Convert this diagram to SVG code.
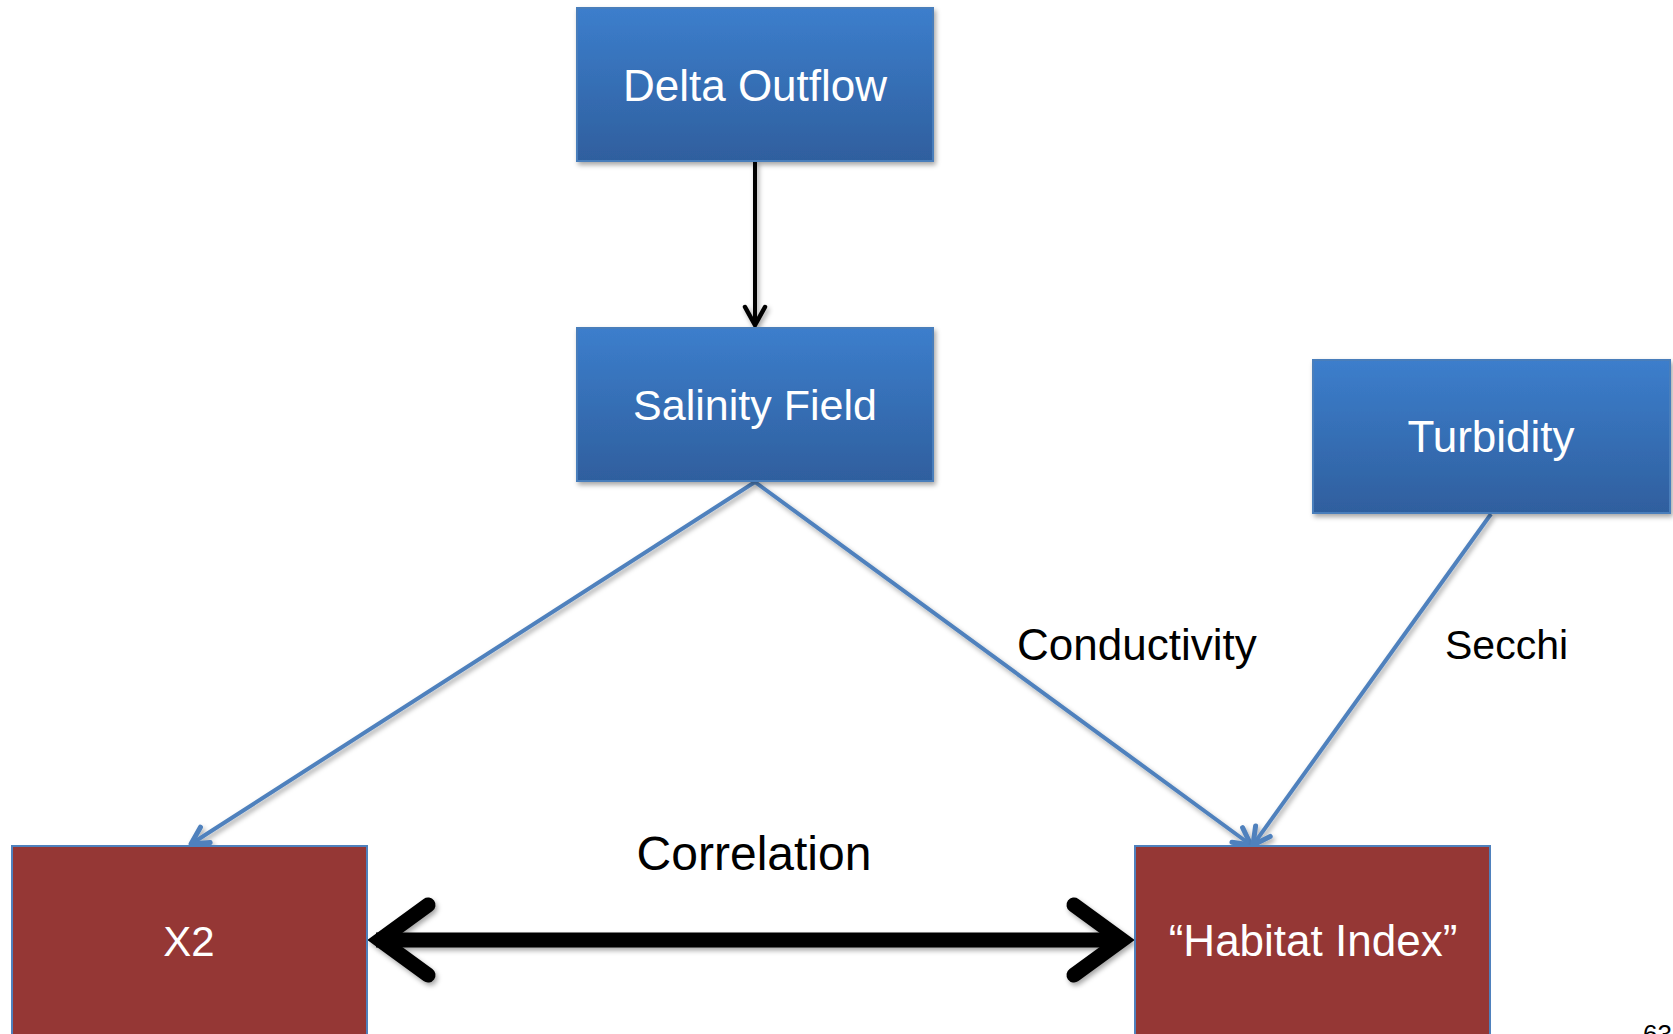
<svg xmlns="http://www.w3.org/2000/svg" width="1673" height="1034" viewBox="0 0 1673 1034">
<style>
.lbl{font-family:"Liberation Sans",Arial,sans-serif;fill:#000}
.ntxt{font-family:"Liberation Sans",Arial,sans-serif;fill:#fff;text-anchor:middle}
.blue{fill:url(#gBlue);stroke:#4a7ebb;stroke-width:2}
.red{fill:#953735;stroke:#4f81bd;stroke-width:2}
.bconn{fill:none;stroke:#4f81bd;stroke-width:4}
</style>
<defs>
<linearGradient id="gBlue" x1="0" y1="0" x2="0" y2="1">
<stop offset="0" stop-color="#3c7ecc"/>
<stop offset="1" stop-color="#2f5f9e"/>
</linearGradient>
<filter id="sh" filterUnits="userSpaceOnUse" x="0" y="0" width="1673" height="1034">
<feDropShadow dx="2" dy="3" stdDeviation="2.5" flood-color="#000" flood-opacity="0.35"/>
</filter>
<marker id="aBlue" markerUnits="userSpaceOnUse" viewBox="-22 -14 26 28" refX="0" refY="0" markerWidth="26" markerHeight="28" orient="auto">
<path d="M-17,-9 L0,0 L-17,9" fill="none" stroke="#4f81bd" stroke-width="5" stroke-linecap="round" stroke-linejoin="round"/>
</marker>
<marker id="aBlack" markerUnits="userSpaceOnUse" viewBox="-22 -14 26 28" refX="0" refY="0" markerWidth="26" markerHeight="28" orient="auto">
<path d="M-18,-10 L0,0 L-18,10" fill="none" stroke="#000" stroke-width="4.5" stroke-linecap="round" stroke-linejoin="miter"/>
</marker>
</defs>
<rect width="1673" height="1034" fill="#fff"/>

<g id="connectors">
<line x1="755" y1="161" x2="755" y2="325" stroke="#000" stroke-width="4" marker-end="url(#aBlack)" filter="url(#sh)"/>
<line class="bconn" x1="755" y1="482" x2="191" y2="844" marker-end="url(#aBlue)" filter="url(#sh)"/>
<line class="bconn" x1="755" y1="482" x2="1251" y2="845" marker-end="url(#aBlue)" filter="url(#sh)"/>
<line class="bconn" x1="1491" y1="514" x2="1253" y2="845" marker-end="url(#aBlue)" filter="url(#sh)"/>
<g id="correlation" filter="url(#sh)" stroke="#000" stroke-width="15" fill="none">
<line x1="376" y1="940" x2="1124" y2="940"/>
<polyline points="428,905 380,940 428,975" stroke-linecap="round" stroke-linejoin="miter"/>
<polyline points="1074,905 1122,940 1074,975" stroke-linecap="round" stroke-linejoin="miter"/>
</g>
<text class="lbl" x="1017" y="660" font-size="44">Conductivity</text>
<text class="lbl" x="1445" y="659" font-size="41">Secchi</text>
<text class="lbl" x="754" y="870" font-size="48" text-anchor="middle">Correlation</text>
</g>

<g id="delta-outflow">
<rect class="blue" x="577" y="8" width="356" height="153" filter="url(#sh)"/>
<text class="ntxt" x="755" y="101" font-size="44">Delta Outflow</text>
</g>
<g id="salinity-field">
<rect class="blue" x="577" y="328" width="356" height="153" filter="url(#sh)"/>
<text class="ntxt" x="755" y="420" font-size="43">Salinity Field</text>
</g>
<g id="turbidity">
<rect class="blue" x="1313" y="360" width="357" height="153" filter="url(#sh)"/>
<text class="ntxt" x="1491" y="452" font-size="44">Turbidity</text>
</g>
<g id="x2">
<rect class="red" x="12" y="846" width="355" height="196"/>
<text class="ntxt" x="189" y="956" font-size="42">X2</text>
</g>
<g id="habitat-index">
<rect class="red" x="1135" y="846" width="355" height="196"/>
<text class="ntxt" x="1313" y="956" font-size="44">“Habitat Index”</text>
</g>
<text class="lbl" x="1643" y="1043" font-size="26">63</text>
</svg>
